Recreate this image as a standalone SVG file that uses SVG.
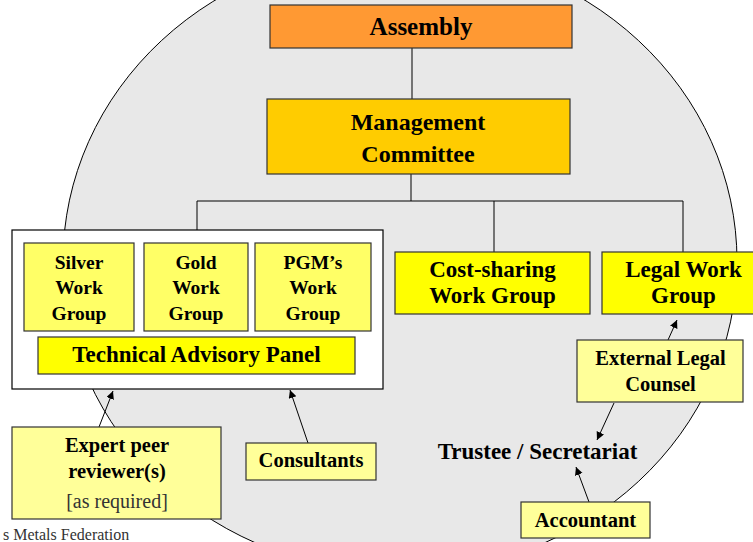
<svg xmlns="http://www.w3.org/2000/svg" width="753" height="542" viewBox="0 0 753 542">
<defs>
<marker id="ah" markerUnits="userSpaceOnUse" markerWidth="10" markerHeight="10" refX="8" refY="4" orient="auto">
<path d="M0,0 L8,4 L0,8 Z" fill="#000"/>
</marker>
<style>
.nodebox{stroke:#333;stroke-width:1.2}
.conn{stroke:#000;stroke-width:1;fill:none}
</style>
</defs>
<rect width="753" height="542" fill="#fff"/>
<ellipse cx="400" cy="261" rx="337" ry="312" fill="#E8E8E8" stroke="#000" stroke-width="1"/>

<g id="connectors">
<path class="conn" d="M412,48 V99"/>
<path class="conn" d="M411,174 V201 M197,201 H683 M197,201 V230 M494,201 V252 M683,201 V252"/>
<path class="conn" d="M668,340 L677,320" marker-end="url(#ah)"/>
<path class="conn" d="M614,403 L597,440" marker-end="url(#ah)"/>
<path class="conn" d="M589,502 L576,467" marker-end="url(#ah)"/>
<path class="conn" d="M308,443 L290,390" marker-end="url(#ah)"/>
<path class="conn" d="M99,427 L113,391" marker-end="url(#ah)"/>
</g>

<g id="assembly">
<rect class="nodebox" x="270" y="5" width="302" height="43" fill="#FF9933"/>
<text x="421" y="35" font-family="Liberation Serif, serif" font-weight="bold" text-anchor="middle" font-size="25">Assembly</text>
</g>
<g id="management">
<rect class="nodebox" x="267" y="99" width="303" height="75" fill="#FFCC00"/>
<text x="418" y="130" font-family="Liberation Serif, serif" font-weight="bold" text-anchor="middle" font-size="24">Management</text>
<text x="418" y="162" font-family="Liberation Serif, serif" font-weight="bold" text-anchor="middle" font-size="24">Committee</text>
</g>
<g id="technical-group">
<rect x="12" y="230" width="371" height="159" fill="#fff" stroke="#000" stroke-width="1.2"/>
</g>
<g id="silver">
<rect class="nodebox" x="24" y="243" width="110" height="88" fill="#FFFF66"/>
<text x="79" y="269" font-family="Liberation Serif, serif" font-weight="bold" text-anchor="middle" font-size="19.5">Silver</text>
<text x="79" y="294" font-family="Liberation Serif, serif" font-weight="bold" text-anchor="middle" font-size="19.5">Work</text>
<text x="79" y="320" font-family="Liberation Serif, serif" font-weight="bold" text-anchor="middle" font-size="19.5">Group</text>
</g>
<g id="gold">
<rect class="nodebox" x="144" y="243" width="104" height="88" fill="#FFFF66"/>
<text x="196" y="269" font-family="Liberation Serif, serif" font-weight="bold" text-anchor="middle" font-size="19.5">Gold</text>
<text x="196" y="294" font-family="Liberation Serif, serif" font-weight="bold" text-anchor="middle" font-size="19.5">Work</text>
<text x="196" y="320" font-family="Liberation Serif, serif" font-weight="bold" text-anchor="middle" font-size="19.5">Group</text>
</g>
<g id="pgm">
<rect class="nodebox" x="255" y="243" width="116" height="88" fill="#FFFF66"/>
<text x="313" y="269" font-family="Liberation Serif, serif" font-weight="bold" text-anchor="middle" font-size="19.5">PGM’s</text>
<text x="313" y="294" font-family="Liberation Serif, serif" font-weight="bold" text-anchor="middle" font-size="19.5">Work</text>
<text x="313" y="320" font-family="Liberation Serif, serif" font-weight="bold" text-anchor="middle" font-size="19.5">Group</text>
</g>
<g id="tap">
<rect class="nodebox" x="38" y="337" width="317" height="37" fill="#FFFF00"/>
<text x="196.5" y="362" font-family="Liberation Serif, serif" font-weight="bold" text-anchor="middle" font-size="23">Technical Advisory Panel</text>
</g>
<g id="cost-sharing">
<rect class="nodebox" x="395" y="252" width="195" height="62" fill="#FFFF00"/>
<text x="492.5" y="277" font-family="Liberation Serif, serif" font-weight="bold" text-anchor="middle" font-size="23">Cost-sharing</text>
<text x="492.5" y="303" font-family="Liberation Serif, serif" font-weight="bold" text-anchor="middle" font-size="23">Work Group</text>
</g>
<g id="legal">
<rect class="nodebox" x="602" y="252" width="163" height="62" fill="#FFFF00"/>
<text x="683.5" y="277" font-family="Liberation Serif, serif" font-weight="bold" text-anchor="middle" font-size="23">Legal Work</text>
<text x="683.5" y="303" font-family="Liberation Serif, serif" font-weight="bold" text-anchor="middle" font-size="23">Group</text>
</g>
<g id="external-legal">
<rect class="nodebox" x="577" y="340" width="166" height="62" fill="#FFFF99"/>
<text x="660.5" y="365" font-family="Liberation Serif, serif" font-weight="bold" text-anchor="middle" font-size="20.5">External Legal</text>
<text x="660.5" y="391" font-family="Liberation Serif, serif" font-weight="bold" text-anchor="middle" font-size="20.5">Counsel</text>
</g>
<g id="trustee">
<text x="537.5" y="459" font-family="Liberation Serif, serif" font-weight="bold" text-anchor="middle" font-size="23">Trustee / Secretariat</text>
</g>
<g id="accountant">
<rect class="nodebox" x="521" y="502" width="129" height="36" fill="#FFFF99"/>
<text x="585.5" y="527" font-family="Liberation Serif, serif" font-weight="bold" text-anchor="middle" font-size="20.5">Accountant</text>
</g>
<g id="consultants">
<rect class="nodebox" x="246" y="443" width="130" height="37" fill="#FFFF99"/>
<text x="311" y="467" font-family="Liberation Serif, serif" font-weight="bold" text-anchor="middle" font-size="20.5">Consultants</text>
</g>
<g id="expert">
<rect class="nodebox" x="12" y="427" width="209" height="92" fill="#FFFF99"/>
<text x="117" y="452" font-family="Liberation Serif, serif" font-weight="bold" text-anchor="middle" font-size="20.5">Expert peer</text>
<text x="117" y="478" font-family="Liberation Serif, serif" font-weight="bold" text-anchor="middle" font-size="20.5">reviewer(s)</text>
<text x="117" y="508" font-family="Liberation Serif, serif" text-anchor="middle" font-size="20" fill="#333">[as required]</text>
</g>
<text x="3" y="540" font-family="Liberation Serif, serif" font-size="16" fill="#333">s Metals Federation</text>
</svg>
